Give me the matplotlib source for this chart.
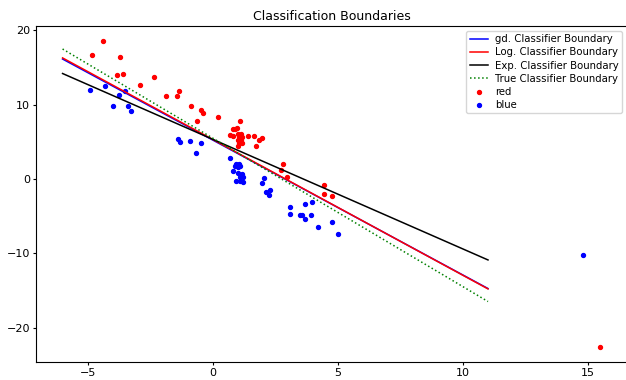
import numpy as np
import matplotlib
matplotlib.use("Agg")
import matplotlib.pyplot as plt

# boundary lines sampled at x = -6 and x = 11
line_x = [-6, 11]
gd_y = [16.15, -14.75]
log_y = [16.3, -14.8]
exp_y = [14.2, -10.9]
true_y = [17.5, -16.5]

red_x = [-4.81, -4.39, -3.71, -3.82, -3.57, -2.91, -2.35, -1.85, -1.35, -1.41,
         -0.85, -0.45, -0.38, -0.64, 0.21, 1.1, 0.81, 0.9, 0.97, 0.69, 0.81,
         1.01, 1.13, 1.04, 1.17, 1.01, 1.14, 1.04, 1.16, 1.01, 1.39, 1.66,
         1.84, 1.98, 1.71, 2.8, 2.74, 2.98, 4.45, 4.45, 4.78, 15.49]
red_y = [16.69, 18.56, 16.42, 13.96, 14.13, 12.66, 13.78, 11.2, 11.85, 11.2,
         9.8, 9.26, 8.95, 7.74, 8.28, 7.8, 6.7, 6.7, 6.8, 5.9, 5.8,
         6.08, 6.08, 5.64, 5.64, 5.19, 5.19, 4.83, 4.83, 4.39, 5.73, 5.81,
         5.28, 5.5, 4.43, 2.06, 1.25, 0.3, -0.76, -1.97, -2.33, -22.6]

blue_x = [-4.89, -4.3, -4.0, -3.76, -3.5, -3.39, -3.28, -1.39, -1.31, -0.92,
          -0.47, -0.65, 0.7, 0.94, 1.05, 0.88, 1.01, 1.08, 0.81, 1.01, 1.18,
          1.08, 1.21, 0.94, 1.1, 1.21, 2.03, 1.98, 2.14, 2.23, 2.3, 3.07,
          3.07, 3.69, 3.97, 3.47, 3.56, 3.67, 3.93, 4.2, 4.77, 5.0, 14.78]
blue_y = [12.04, 12.48, 9.89, 11.32, 11.9, 9.76, 9.17, 5.41, 4.93, 5.14,
          4.83, 3.45, 2.82, 2.01, 2.06, 1.74, 1.57, 1.7, 1.11, 0.8, 0.67,
          0.23, 0.23, -0.31, -0.31, -0.4, 0.09, -0.6, -1.7, -2.1, -1.52, -3.72,
          -4.66, -3.36, -3.13, -4.87, -4.83, -5.33, -4.87, -6.44, -5.77, -7.38, -10.3]

fig = plt.figure(figsize=(6.26, 3.8), dpi=100)
ax = fig.add_axes([0.057, 0.047, 0.945, 0.885])

lw = 1.1
ax.plot(line_x, gd_y, color='blue', lw=lw, label='gd. Classifier Boundary')
ax.plot(line_x, log_y, color='red', lw=lw, label='Log. Classifier Boundary')
ax.plot(line_x, exp_y, color='black', lw=lw, label='Exp. Classifier Boundary')
ax.plot(line_x, true_y, color='green', lw=lw, linestyle=':', label='True Classifier Boundary')
ax.scatter(red_x, red_y, color='red', s=8, label='red')
ax.scatter(blue_x, blue_y, color='blue', s=8, label='blue')

ax.set_title('Classification Boundaries', fontsize=9, pad=4)
ax.tick_params(labelsize=8, length=2.5, pad=1.5)
ax.legend(loc='upper right', fontsize=7.3, handlelength=1.8, labelspacing=0.3,
          borderpad=0.35, handletextpad=0.7)

fig.savefig('out.png')
